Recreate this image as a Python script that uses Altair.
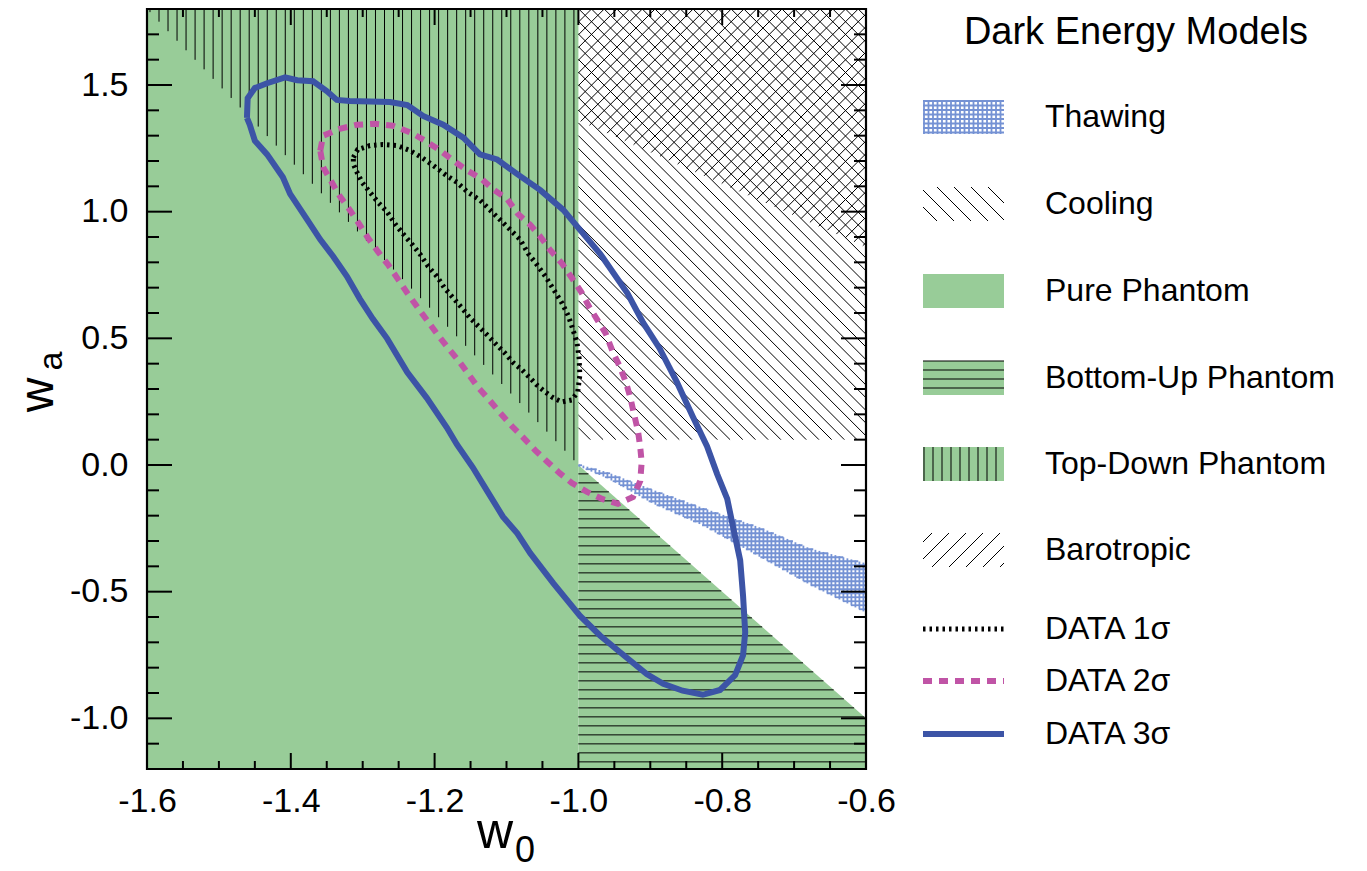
import math
import altair as alt
import numpy as np
import pandas as pd

FONT = "Liberation Sans"
GREEN = "#98cc98"
THAW_BLUE = "#7592d4"
BLUE = "#3c54a6"
MAGENTA = "#c054a6"

# ---------------- values ----------------
X_DOMAIN = [-1.6, -0.6]
Y_DOMAIN = [-1.2, 1.8]
x_label_values = [-1.6, -1.4, -1.2, -1.0, -0.8, -0.6]
y_label_values = [-1.0, -0.5, 0.0, 0.5, 1.0, 1.5]
x_major_ticks = [-1.4, -1.2, -1.0, -0.8]
x_minor_ticks = [-1.55, -1.50, -1.45, -1.35, -1.30, -1.25, -1.15, -1.10, -1.05,
                 -0.95, -0.90, -0.85, -0.75, -0.70, -0.65]
y_major_ticks = [-1.0, -0.5, 0.0, 0.5, 1.0, 1.5]
y_minor_ticks = [-1.1, -0.9, -0.8, -0.7, -0.6, -0.4, -0.3, -0.2, -0.1,
                 0.1, 0.2, 0.3, 0.4, 0.6, 0.7, 0.8, 0.9, 1.1, 1.2, 1.3, 1.4, 1.6, 1.7]

# model-region boundaries in the (w0, wa) plane
phantom_divide_w0 = -1.0
pure_edge_w0 = [-1.6, -1.0]          # upper edge of Pure Phantom (below Top-Down)
pure_edge_wa = [1.8, 0.0]
bottomup_edge_w0 = [-1.0, -0.6]      # upper edge of Bottom-Up Phantom
bottomup_edge_wa = [0.0, -1.0]
cooling_floor_wa = 0.1
barotropic_edge_w0 = [-1.0, -0.6]    # lower edge of Barotropic
barotropic_edge_wa = [1.36, 0.86]

# Thawing band
thaw_top_w0 = [-1.000, -0.960, -0.896, -0.827, -0.747, -0.678, -0.600]
thaw_top_wa = [0.003, -0.028, -0.098, -0.169, -0.247, -0.329, -0.388]
thaw_bot_w0 = [-1.000, -0.960, -0.896, -0.827, -0.747, -0.678, -0.600]
thaw_bot_wa = [-0.005, -0.052, -0.153, -0.239, -0.364, -0.473, -0.583]

# DATA contours
sig1_w0 = [-1.313, -1.307, -1.290, -1.272, -1.252, -1.234, -1.218, -1.202, -1.186, -1.169,
           -1.154, -1.137, -1.123, -1.109, -1.095, -1.081, -1.070, -1.058, -1.046, -1.035,
           -1.023, -1.014, -1.008, -1.002, -0.999, -0.998, -1.001, -1.009, -1.023, -1.035,
           -1.046, -1.058, -1.067, -1.078, -1.091, -1.102, -1.113, -1.126, -1.137, -1.151,
           -1.162, -1.174, -1.186, -1.197, -1.209, -1.220, -1.231, -1.244, -1.255, -1.266,
           -1.279, -1.290, -1.301, -1.308, -1.313]
sig1_wa = [1.214, 1.245, 1.261, 1.265, 1.261, 1.241, 1.214, 1.183, 1.148, 1.116,
           1.077, 1.046, 1.007, 0.968, 0.929, 0.890, 0.835, 0.792, 0.745, 0.695,
           0.640, 0.589, 0.538, 0.484, 0.421, 0.355, 0.288, 0.257, 0.249, 0.265,
           0.288, 0.316, 0.343, 0.374, 0.405, 0.441, 0.472, 0.511, 0.542, 0.581,
           0.620, 0.659, 0.698, 0.745, 0.784, 0.831, 0.870, 0.913, 0.952, 0.999,
           1.038, 1.077, 1.116, 1.156, 1.187]

sig2_w0 = [-1.359, -1.355, -1.332, -1.308, -1.283, -1.258, -1.233, -1.213, -1.192, -1.174,
           -1.155, -1.134, -1.119, -1.099, -1.084, -1.067, -1.053, -1.040, -1.023, -1.009,
           -0.996, -0.985, -0.973, -0.962, -0.952, -0.942, -0.934, -0.928, -0.923, -0.917,
           -0.914, -0.912, -0.914, -0.924, -0.945, -0.967, -0.988, -1.009, -1.026, -1.044,
           -1.060, -1.077, -1.092, -1.109, -1.124, -1.140, -1.154, -1.167, -1.183, -1.197,
           -1.211, -1.224, -1.238, -1.251, -1.265, -1.279, -1.293, -1.305, -1.318, -1.332,
           -1.343, -1.355]
sig2_wa = [1.241, 1.300, 1.327, 1.343, 1.347, 1.339, 1.312, 1.280, 1.241, 1.202,
           1.163, 1.128, 1.089, 1.050, 0.991, 0.948, 0.902, 0.851, 0.796, 0.738,
           0.683, 0.624, 0.570, 0.519, 0.445, 0.386, 0.327, 0.269, 0.206, 0.132,
           0.070, 0.011, -0.063, -0.126, -0.153, -0.134, -0.106, -0.071, -0.032, 0.015,
           0.058, 0.109, 0.152, 0.206, 0.257, 0.308, 0.363, 0.413, 0.468, 0.519,
           0.573, 0.624, 0.679, 0.734, 0.792, 0.843, 0.898, 0.952, 1.007, 1.062,
           1.116, 1.175]

sig3_w0 = [-1.461, -1.460, -1.450, -1.433, -1.408, -1.391, -1.369, -1.350, -1.336, -1.318,
           -1.262, -1.238, -1.216, -1.188, -1.160, -1.137, -1.113, -1.085, -1.053, -1.021,
           -0.998, -0.970, -0.932, -0.910, -0.887, -0.863, -0.841, -0.821, -0.807, -0.793,
           -0.785, -0.775, -0.771, -0.768, -0.771, -0.782, -0.803, -0.827, -0.855, -0.882,
           -0.905, -0.942, -0.970, -0.998, -1.016, -1.035, -1.067, -1.085, -1.105, -1.127,
           -1.147, -1.169, -1.183, -1.211, -1.238, -1.266, -1.286, -1.304, -1.322, -1.341,
           -1.359, -1.377, -1.401, -1.411, -1.433, -1.450, -1.457]
sig3_wa = [1.370, 1.448, 1.488, 1.507, 1.530, 1.519, 1.515, 1.476, 1.441, 1.437,
           1.433, 1.421, 1.378, 1.343, 1.292, 1.226, 1.206, 1.148, 1.085, 1.007,
           0.929, 0.835, 0.679, 0.562, 0.460, 0.327, 0.191, 0.073, -0.036, -0.134,
           -0.243, -0.376, -0.516, -0.661, -0.751, -0.829, -0.888, -0.907, -0.891, -0.864,
           -0.825, -0.739, -0.673, -0.595, -0.532, -0.466, -0.348, -0.270, -0.204, -0.102,
           -0.009, 0.081, 0.148, 0.265, 0.366, 0.499, 0.577, 0.656, 0.745, 0.823,
           0.890, 0.968, 1.070, 1.136, 1.226, 1.280, 1.343]

legend_title = "Dark Energy Models"
legend_labels = ["Thawing", "Cooling", "Pure Phantom", "Bottom-Up Phantom",
                 "Top-Down Phantom", "Barotropic", "DATA 1σ", "DATA 2σ", "DATA 3σ"]

# ---------------- layout (page pixels) ----------------
W, H = 719, 760
PLOT_LEFT, PLOT_TOP = 147, 9
PADDING = {"left": PLOT_LEFT - 8, "top": PLOT_TOP - 8,
           "right": 1359 - PLOT_LEFT - W, "bottom": 871 - PLOT_TOP - H}
LEG_SW_X0, LEG_SW_X1, LEG_SW_H = 923, 1004, 34
LEG_LABEL_X = 1045
LEG_TITLE_X, LEG_TITLE_Y = 1136, 33
LEG_ROW_Y = [117, 204, 291, 378, 464, 550, 629, 681, 734]


def d2p(w0, wa):
    return ((w0 - X_DOMAIN[0]) / (X_DOMAIN[1] - X_DOMAIN[0]) * W,
            (Y_DOMAIN[1] - wa) / (Y_DOMAIN[1] - Y_DOMAIN[0]) * H)


def p2d(px, py):
    return (X_DOMAIN[0] + px / W * (X_DOMAIN[1] - X_DOMAIN[0]),
            Y_DOMAIN[1] - py / H * (Y_DOMAIN[1] - Y_DOMAIN[0]))


def page2d(x, y):
    return p2d(x - PLOT_LEFT, y - PLOT_TOP)


def page_rect(x0, y0, x1, y1):
    return [(x0 - PLOT_LEFT, y0 - PLOT_TOP), (x1 - PLOT_LEFT, y0 - PLOT_TOP),
            (x1 - PLOT_LEFT, y1 - PLOT_TOP), (x0 - PLOT_LEFT, y1 - PLOT_TOP)]


def clip_segment(a, b, poly):
    cx = sum(p[0] for p in poly) / len(poly)
    cy = sum(p[1] for p in poly) / len(poly)
    t0, t1 = 0.0, 1.0
    dx, dy = b[0] - a[0], b[1] - a[1]
    n = len(poly)
    for i in range(n):
        ex0, ey0 = poly[i]
        ex1, ey1 = poly[(i + 1) % n]
        nx, ny = -(ey1 - ey0), (ex1 - ex0)
        if nx * (cx - ex0) + ny * (cy - ey0) < 0:
            nx, ny = -nx, -ny
        num = nx * (a[0] - ex0) + ny * (a[1] - ey0)
        den = nx * dx + ny * dy
        if abs(den) < 1e-12:
            if num < -1e-9:
                return None
            continue
        t = -num / den
        if den > 0:
            t0 = max(t0, t)
        else:
            t1 = min(t1, t)
        if t0 >= t1 - 1e-9:
            return None
    return (a[0] + t0 * dx, a[1] + t0 * dy), (a[0] + t1 * dx, a[1] + t1 * dy)


def hatch(poly, kind, spacing, phase=0.0):
    xs = [p[0] for p in poly]
    ys = [p[1] for p in poly]
    x0, x1, y0, y1 = min(xs) - 5, max(xs) + 5, min(ys) - 5, max(ys) + 5
    if kind == "v":
        lo, hi = min(xs), max(xs)
    elif kind == "h":
        lo, hi = min(ys), max(ys)
    elif kind == "back":
        vals = [p[1] - p[0] for p in poly]
        lo, hi = min(vals), max(vals)
    else:
        vals = [p[1] + p[0] for p in poly]
        lo, hi = min(vals), max(vals)
    k = math.ceil((lo - phase) / spacing - 1e-9)
    out = []
    while phase + k * spacing <= hi + 1e-9:
        v = phase + k * spacing
        k += 1
        if kind == "v":
            a, b = (v, y0), (v, y1)
        elif kind == "h":
            a, b = (x0, v), (x1, v)
        elif kind == "back":
            a, b = (x0, v + x0), (x1, v + x1)
        else:
            a, b = (x0, v - x0), (x1, v - x1)
        seg = clip_segment(a, b, poly)
        if seg:
            out.append(seg)
    return out


def seg_rows(segs):
    rows = []
    for a, b in segs:
        xa, ya = p2d(*a)
        xb, yb = p2d(*b)
        rows.append({"x": xa, "y": ya, "x2": xb, "y2": yb})
    return rows


# ---------------- hatching geometry ----------------
topdown_poly = [d2p(pure_edge_w0[0], pure_edge_wa[0]), d2p(pure_edge_w0[1], pure_edge_wa[1]),
                d2p(phantom_divide_w0, Y_DOMAIN[1])]
bottomup_poly = [d2p(bottomup_edge_w0[0], bottomup_edge_wa[0]),
                 d2p(bottomup_edge_w0[1], bottomup_edge_wa[1]),
                 d2p(X_DOMAIN[1], Y_DOMAIN[0]), d2p(phantom_divide_w0, Y_DOMAIN[0])]
cooling_poly = [d2p(phantom_divide_w0, Y_DOMAIN[1]), d2p(X_DOMAIN[1], Y_DOMAIN[1]),
                d2p(X_DOMAIN[1], cooling_floor_wa), d2p(phantom_divide_w0, cooling_floor_wa)]
barotropic_poly = [d2p(phantom_divide_w0, Y_DOMAIN[1]), d2p(X_DOMAIN[1], Y_DOMAIN[1]),
                   d2p(barotropic_edge_w0[1], barotropic_edge_wa[1]),
                   d2p(barotropic_edge_w0[0], barotropic_edge_wa[0])]

black_rows = []
black_rows += seg_rows(hatch(topdown_poly, "v", 9.02, 12.0))
black_rows += seg_rows(hatch(bottomup_poly, "h", 9.0, d2p(0, -0.035)[1]))
black_rows += seg_rows(hatch(cooling_poly, "back", 12.7, 0.0))
black_rows += seg_rows(hatch(barotropic_poly, "fwd", 12.7, 0.0))

# thawing grid (plot)
blue_rows = []
px_lo = d2p(phantom_divide_w0, 0)[0]
for px in np.arange(px_lo + 1.0, W, 4.0):
    w0 = p2d(px, 0)[0]
    top = float(np.interp(w0, thaw_top_w0, thaw_top_wa))
    bot = float(np.interp(w0, thaw_bot_w0, thaw_bot_wa))
    if top > bot:
        blue_rows.append({"x": w0, "y": top, "x2": w0, "y2": bot})
py_lo = d2p(0, max(thaw_top_wa))[1]
py_hi = d2p(0, min(thaw_bot_wa))[1]
for py in np.arange(py_lo + 1.0, py_hi, 4.0):
    wa = p2d(0, py)[1]
    xb = float(np.interp(wa, thaw_bot_wa[::-1], thaw_bot_w0[::-1]))
    xt = float(np.interp(wa, thaw_top_wa[::-1], thaw_top_w0[::-1]))
    left, right = max(xb, X_DOMAIN[0]), min(xt, X_DOMAIN[1])
    if right > left:
        blue_rows.append({"x": left, "y": wa, "x2": right, "y2": wa})


# legend swatches
def sw_rect(i):
    yc = LEG_ROW_Y[i]
    return page_rect(LEG_SW_X0, yc - LEG_SW_H / 2, LEG_SW_X1, yc + LEG_SW_H / 2)


blue_rows += seg_rows(hatch(sw_rect(0), "v", 4.5, LEG_SW_X0 - PLOT_LEFT + 1))
blue_rows += seg_rows(hatch(sw_rect(0), "h", 4.5, LEG_ROW_Y[0] - LEG_SW_H / 2 - PLOT_TOP + 1))
black_rows += seg_rows(hatch(sw_rect(1), "back", 17.0, 0.0))
black_rows += seg_rows(hatch(sw_rect(3), "h", 9.0, LEG_ROW_Y[3] - LEG_SW_H / 2 - PLOT_TOP))
black_rows += seg_rows(hatch(sw_rect(4), "v", 9.0, LEG_SW_X0 - PLOT_LEFT + 1))
black_rows += seg_rows(hatch(sw_rect(5), "fwd", 17.0, 0.0))

green_sw_rows = []
for i in (2, 3, 4):
    r = sw_rect(i)
    xa, ya = p2d(*r[0])
    xb, yb = p2d(*r[2])
    green_sw_rows.append({"x": xa, "y": ya, "x2": xb, "y2": yb})

# ---------------- encodings ----------------
XS = alt.Scale(domain=X_DOMAIN, nice=False, zero=False)
YS = alt.Scale(domain=Y_DOMAIN, nice=False, zero=False)
LABEL_EXPR = "replace(format(datum.value, '.1f'), '\u2212', '-')"
XAXIS = alt.Axis(values=x_label_values, labelExpr=LABEL_EXPR, labelFontSize=34, labelFont=FONT,
                 labelColor="black", ticks=False, tickSize=0, domain=False, grid=False,
                 labelPadding=15, labelFlush=False, labelOverlap=False, title=None)
YAXIS = alt.Axis(values=y_label_values, labelExpr=LABEL_EXPR, labelFontSize=34, labelFont=FONT,
                 labelColor="black", ticks=False, tickSize=0, domain=False, grid=False,
                 labelPadding=19, labelFlush=False, labelOverlap=False, title=None)


def X(f):
    return alt.X(f, type="quantitative", scale=XS, axis=XAXIS, title=None)


def Y(f):
    return alt.Y(f, type="quantitative", scale=YS, axis=YAXIS, title=None)


one = pd.DataFrame({"k": [0]})

green_left = alt.Chart(pd.DataFrame({"x": [X_DOMAIN[0]], "x2": [phantom_divide_w0],
                                     "y": [Y_DOMAIN[0]], "y2": [Y_DOMAIN[1]]})).mark_rect(
    color=GREEN).encode(x=X("x"), x2=alt.X2("x2"), y=Y("y"), y2=alt.Y2("y2"))

green_tri = alt.Chart(pd.DataFrame({"x": bottomup_edge_w0, "top": bottomup_edge_wa,
                                    "bottom": [Y_DOMAIN[0], Y_DOMAIN[0]]})).mark_area(
    color=GREEN, opacity=1).encode(x=X("x"), y=Y("top"), y2=alt.Y2("bottom"))

green_sw = alt.Chart(pd.DataFrame(green_sw_rows)).mark_rect(color=GREEN).encode(
    x=X("x"), x2=alt.X2("x2"), y=Y("y"), y2=alt.Y2("y2"))

black_hatch = alt.Chart(pd.DataFrame(black_rows)).mark_rule(
    color="black", strokeWidth=1.0).encode(x=X("x"), y=Y("y"), x2=alt.X2("x2"), y2=alt.Y2("y2"))

blue_hatch = alt.Chart(pd.DataFrame(blue_rows)).mark_rule(
    color=THAW_BLUE, strokeWidth=1.8).encode(x=X("x"), y=Y("y"), x2=alt.X2("x2"), y2=alt.Y2("y2"))


def contour(w0s, was, **style):
    w = list(w0s) + [w0s[0]]
    a = list(was) + [was[0]]
    df = pd.DataFrame({"w0": w, "wa": a, "i": list(range(len(w)))})
    return alt.Chart(df).mark_line(interpolate="linear", **style).encode(
        x=X("w0"), y=Y("wa"), order=alt.Order("i:Q"))


STY1 = dict(color="black", strokeWidth=5, strokeDash=[2.5, 4])
STY2 = dict(color=MAGENTA, strokeWidth=6, strokeDash=[9, 7])
STY3 = dict(color=BLUE, strokeWidth=6)

c1 = contour(sig1_w0, sig1_wa, **STY1)
c2 = contour(sig2_w0, sig2_wa, **STY2)
c3 = contour(sig3_w0, sig3_wa, **STY3)

leg_lines = []
for i, sty in zip((6, 7, 8), (STY1, STY2, STY3)):
    xa, ya = page2d(LEG_SW_X0, LEG_ROW_Y[i])
    xb, _ = page2d(LEG_SW_X1, LEG_ROW_Y[i])
    df = pd.DataFrame({"w0": [xa, xb], "wa": [ya, ya], "i": [0, 1]})
    leg_lines.append(alt.Chart(df).mark_line(**sty).encode(
        x=X("w0"), y=Y("wa"), order=alt.Order("i:Q")))


def ticks(vals, side, length):
    base = alt.Chart(pd.DataFrame({"v": vals})).mark_rule(color="black", strokeWidth=2)
    if side == "bottom":
        return base.encode(x=X("v"), y=alt.value(H), y2=alt.value(H - length))
    if side == "top":
        return base.encode(x=X("v"), y=alt.value(0), y2=alt.value(length))
    if side == "left":
        return base.encode(y=Y("v"), x=alt.value(0), x2=alt.value(length))
    return base.encode(y=Y("v"), x=alt.value(W), x2=alt.value(W - length))


tick_layers = [
    ticks(x_major_ticks, "bottom", 16), ticks(x_minor_ticks, "bottom", 8),
    ticks(x_major_ticks, "top", 16), ticks(x_minor_ticks, "top", 8),
    ticks(y_major_ticks, "left", 25), ticks(y_minor_ticks, "left", 12),
    ticks(y_major_ticks, "right", 25), ticks(y_minor_ticks, "right", 12),
]

frame = alt.Chart(one).mark_rect(fillOpacity=0, stroke="black", strokeWidth=2.2).encode(
    x=alt.value(0), x2=alt.value(W), y=alt.value(0), y2=alt.value(H))

tx, ty = page2d(LEG_TITLE_X, LEG_TITLE_Y)
leg_title = alt.Chart(pd.DataFrame({"x": [tx], "y": [ty], "label": [legend_title]})).mark_text(
    font=FONT, fontSize=38, align="center", baseline="middle", color="black").encode(
    x=X("x"), y=Y("y"), text="label:N")

lab_pos = [page2d(LEG_LABEL_X, yy) for yy in LEG_ROW_Y]
leg_labels = alt.Chart(pd.DataFrame({"x": [p[0] for p in lab_pos], "y": [p[1] for p in lab_pos],
                                     "label": legend_labels})).mark_text(
    font=FONT, fontSize=32, align="left", baseline="middle", color="black").encode(
    x=X("x"), y=Y("y"), text="label:N")

xt_w = alt.Chart(one).mark_text(text="w", font=FONT, fontSize=50, align="left",
                                baseline="alphabetic", color="black").encode(
    x=alt.value(330), y=alt.value(H + 79))
xt_s = alt.Chart(one).mark_text(text="0", font=FONT, fontSize=36, align="left",
                                baseline="alphabetic", color="black").encode(
    x=alt.value(368), y=alt.value(H + 93))
yt_w = alt.Chart(one).mark_text(text="w", font=FONT, fontSize=48, angle=270, align="center",
                                baseline="alphabetic", color="black").encode(
    x=alt.value(-94), y=alt.value(386))
yt_s = alt.Chart(one).mark_text(text="a", font=FONT, fontSize=34, angle=270, align="center",
                                baseline="alphabetic", color="black").encode(
    x=alt.value(-85), y=alt.value(352))

chart = alt.layer(
    green_left, green_tri, green_sw, black_hatch, blue_hatch, c1, c2, c3, *leg_lines,
    *tick_layers, frame, leg_title, leg_labels, xt_w, xt_s, yt_w, yt_s
).properties(
    width=W, height=H,
    autosize=alt.AutoSizeParams(type="none"),
    padding=PADDING,
).configure(font=FONT).configure_view(strokeWidth=0)

chart.save("out.html", embed_options={"renderer": "svg", "actions": False})
